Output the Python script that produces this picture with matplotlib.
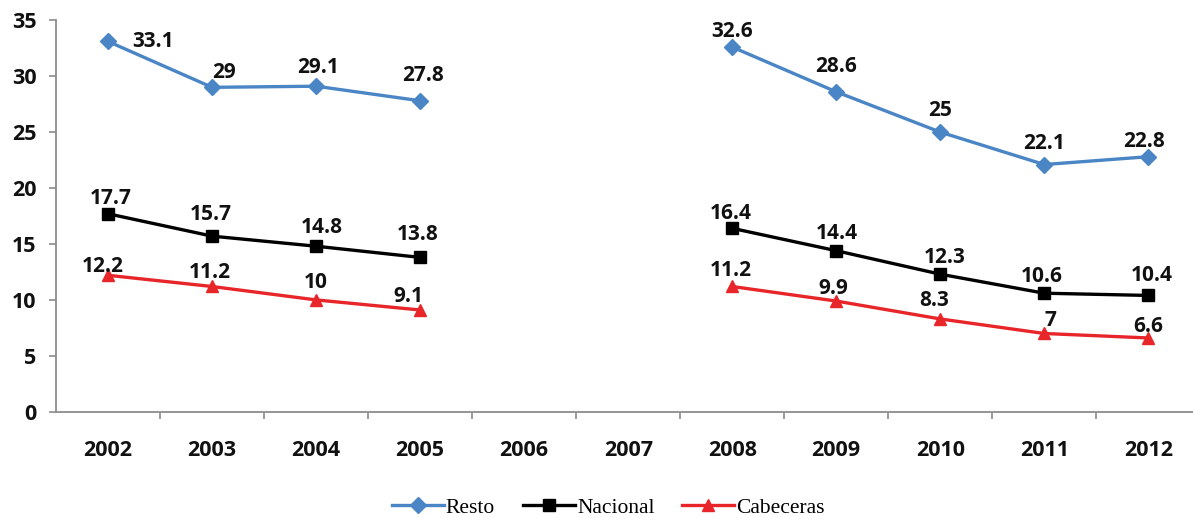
import numpy as np
import matplotlib
matplotlib.use("Agg")
import matplotlib.pyplot as plt

# datos
years = ["2002", "2003", "2004", "2005", "2006", "2007",
         "2008", "2009", "2010", "2011", "2012"]
resto = [33.1, 29, 29.1, 27.8, np.nan, np.nan, 32.6, 28.6, 25, 22.1, 22.8]
nacional = [17.7, 15.7, 14.8, 13.8, np.nan, np.nan, 16.4, 14.4, 12.3, 10.6, 10.4]
cabeceras = [12.2, 11.2, 10, 9.1, np.nan, np.nan, 11.2, 9.9, 8.3, 7, 6.6]

# desplazamiento de etiquetas (pixeles)
off_resto = [(45, 0), (12, 15), (2, 19), (3, 25), None, None,
             (0, 16), (0, 25), (0, 22), (0, 21), (-4, 15)]
off_nac = [(3, 15), (-1, 22), (6, 19), (-2, 23), None, None,
           (-1, 15), (1, 17), (4, 17), (-3, 17), (4, 20)]
off_cab = [(-5, 9), (-2, 14), (0, 17), (-12, 13), None, None,
           (-1, 16), (-3, 13), (-6, 18), (6, 13), (0, 11)]

azul = "#4a86c5"
rojo = "#e8262a"
gris = "#8c8c8c"

fig = plt.figure(figsize=(11.93, 5.18), dpi=100)
ax = fig.add_axes([0.047, 0.205, 0.953, 0.756])

x = np.arange(len(years))
ax.plot(x, resto, color=azul, lw=2.4, marker="D", ms=8.5, label="Resto")
ax.plot(x, nacional, color="black", lw=2.4, marker="s", ms=8, label="Nacional")
ax.plot(x, cabeceras, color=rojo, lw=2.4, marker="^", ms=9, label="Cabeceras")

for serie, offs in [(resto, off_resto), (nacional, off_nac), (cabeceras, off_cab)]:
    for i, v in enumerate(serie):
        if np.isnan(v):
            continue
        ax.annotate("%g" % v, (x[i], v), xytext=offs[i], textcoords="offset pixels",
                    ha="center", va="center", fontsize=15, fontweight="bold",
                    family="Open Sans", color="#111111")

# el eje sigue un poco mas alla del borde derecho
ax.set_xlim(-0.5, len(years) - 0.57)
ax.set_ylim(0, 35)
ax.set_yticks(np.arange(0, 36, 5))
ax.set_xticks(x)
ax.set_xticklabels(years)
ax.set_xticks(np.arange(0.5, len(years) - 0.5, 1), minor=True)

for s in ["top", "right"]:
    ax.spines[s].set_visible(False)
for s in ["left", "bottom"]:
    ax.spines[s].set_color(gris)
    ax.spines[s].set_linewidth(1.3)

ax.tick_params(axis="x", which="major", length=0, pad=20)
ax.tick_params(axis="x", which="minor", length=5, color=gris, width=1.2)
ax.tick_params(axis="y", length=5, color=gris, width=1.2, pad=9)
for lab in ax.get_xticklabels() + ax.get_yticklabels():
    lab.set_fontsize(15.5)
    lab.set_fontweight("bold")
    lab.set_family("Open Sans")
    lab.set_color("#111111")

fig.legend(loc="center", bbox_to_anchor=(0.51, 0.02), ncol=3, frameon=False,
           prop={"family": "Liberation Serif", "size": 15.5},
           handlelength=2.4, columnspacing=1.3, handletextpad=0.1)

fig.savefig("out.png", dpi=100)
